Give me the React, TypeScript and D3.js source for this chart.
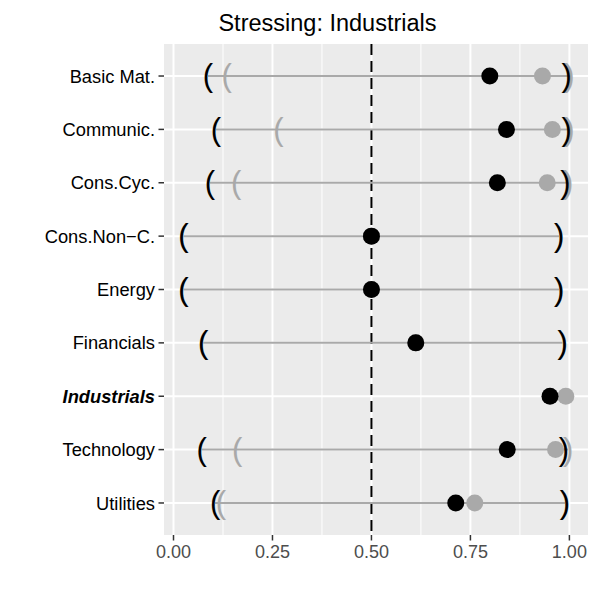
import React from "react";
import * as d3 from "d3";

// Sectors, top to bottom
const sectors = [
  "Basic Mat.",
  "Communic.",
  "Cons.Cyc.",
  "Cons.Non\u2212C.",
  "Energy",
  "Financials",
  "Industrials",
  "Technology",
  "Utilities",
];
const stressed = "Industrials";

// Interval bounds (black = stressed run, grey = baseline); null = no interval
const lowerBlack: (number | null)[] = [0.087, 0.107, 0.092, 0.025, 0.025, 0.075, null, 0.071, 0.105];
const upperBlack: (number | null)[] = [0.993, 0.993, 0.99, 0.974, 0.974, 0.983, null, 0.986, 0.989];
const lowerGrey: (number | null)[] = [0.134, 0.265, 0.158, 0.025, 0.025, 0.075, null, 0.161, 0.12];
const upperGrey: (number | null)[] = [1.0, 1.0, 0.997, 0.974, 0.974, 0.983, null, 0.997, 0.989];

// Point estimates
const pointBlack = [0.799, 0.841, 0.818, 0.5, 0.5, 0.612, 0.951, 0.843, 0.713];
const pointGrey = [0.932, 0.957, 0.944, 0.5, 0.5, 0.612, 0.991, 0.965, 0.761];

const xTicks = [0, 0.25, 0.5, 0.75, 1];
const xMinor = [0.125, 0.375, 0.625, 0.875];
const refLine = 0.5;

const W = 600;
const H = 600;
const panel = { left: 164, right: 588, top: 44, bottom: 535 };
const GREY = "#A9A9A9";

export default function App() {
  const x = d3.scaleLinear().domain([-0.024, 1.047]).range([panel.left, panel.right]);
  const y = d3.scalePoint<string>().domain(sectors).range([panel.top, panel.bottom]).padding(0.6);
  const fmt = d3.format(".2f");
  const font = "'Liberation Sans', Arial, Helvetica, sans-serif";
  const parenSize = 31;

  return (
    <svg width={W} height={H} style={{ display: "block", position: "absolute", left: 0, top: 0 }} fontFamily={font}>
      <rect x={0} y={0} width={W} height={H} fill="#ffffff" />
      <text x={327.5} y={31} textAnchor="middle" fontSize={23.5} fill="#000">
        Stressing: Industrials
      </text>
      {/* panel */}
      <rect x={panel.left} y={panel.top} width={panel.right - panel.left} height={panel.bottom - panel.top} fill="#EBEBEB" />
      {xMinor.map((v) => (
        <line key={"mn" + v} x1={x(v)} x2={x(v)} y1={panel.top} y2={panel.bottom} stroke="#fff" strokeWidth={1} />
      ))}
      {xTicks.map((v) => (
        <line key={"mj" + v} x1={x(v)} x2={x(v)} y1={panel.top} y2={panel.bottom} stroke="#fff" strokeWidth={2} />
      ))}
      {sectors.map((s) => (
        <line key={"hg" + s} x1={panel.left} x2={panel.right} y1={y(s)} y2={y(s)} stroke="#fff" strokeWidth={2} />
      ))}
      <line x1={x(refLine)} x2={x(refLine)} y1={panel.top} y2={panel.bottom} stroke="#000" strokeWidth={2} strokeDasharray="11,6" />

      {sectors.map((s, i) => {
        const cy = y(s)!;
        const lows = [lowerBlack[i], lowerGrey[i]].filter((v): v is number => v != null);
        const highs = [upperBlack[i], upperGrey[i]].filter((v): v is number => v != null);
        return (
          <g key={"row" + s}>
            {lows.length > 0 && (
              <line x1={x(Math.min(...lows))} x2={x(Math.max(...highs))} y1={cy} y2={cy} stroke={GREY} strokeWidth={2} />
            )}
            {lowerGrey[i] != null && (
              <text x={x(lowerGrey[i]!)} y={cy} dy="0.33em" textAnchor="middle" fontSize={parenSize} fill={GREY}>(</text>
            )}
            {upperGrey[i] != null && (
              <text x={x(upperGrey[i]!)} y={cy} dy="0.33em" textAnchor="middle" fontSize={parenSize} fill={GREY}>)</text>
            )}
            {lowerBlack[i] != null && (
              <text x={x(lowerBlack[i]!)} y={cy} dy="0.33em" textAnchor="middle" fontSize={parenSize} fill="#000">(</text>
            )}
            {upperBlack[i] != null && (
              <text x={x(upperBlack[i]!)} y={cy} dy="0.33em" textAnchor="middle" fontSize={parenSize} fill="#000">)</text>
            )}
            <circle cx={x(pointGrey[i])} cy={cy} r={8.5} fill={GREY} />
            <circle cx={x(pointBlack[i])} cy={cy} r={8.5} fill="#000" />
          </g>
        );
      })}

      {/* y axis */}
      {sectors.map((s) => (
        <g key={"yl" + s}>
          <line x1={panel.left - 5.5} x2={panel.left} y1={y(s)} y2={y(s)} stroke="#333" strokeWidth={1.5} />
          <text
            x={panel.left - 9}
            y={y(s)}
            dy="0.36em"
            textAnchor="end"
            fontSize={18.3}
            fill="#000"
            fontWeight={s === stressed ? "bold" : "normal"}
            fontStyle={s === stressed ? "italic" : "normal"}
          >
            {s}
          </text>
        </g>
      ))}
      {/* x axis */}
      {xTicks.map((v) => (
        <g key={"xl" + v}>
          <line x1={x(v)} x2={x(v)} y1={panel.bottom} y2={panel.bottom + 5.5} stroke="#333" strokeWidth={1.5} />
          <text x={x(v)} y={558} textAnchor="middle" fontSize={18} fill="#4D4D4D">
            {fmt(v)}
          </text>
        </g>
      ))}
    </svg>
  );
}
